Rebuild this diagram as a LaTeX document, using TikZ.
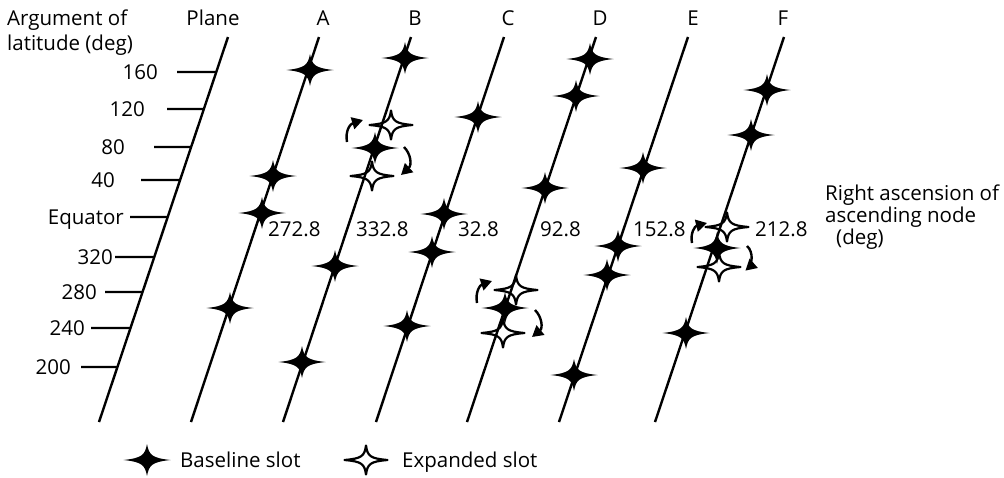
\documentclass[tikz,border=0pt]{standalone}
\usepackage{fontspec}
\setmainfont{Open Sans}
\usetikzlibrary{calc,arrows.meta}
\begin{document}
\begin{tikzpicture}[x=1pt,y=-1pt,
  orbit/.style={line width=2.4pt},
  tickline/.style={line width=2.4pt},
  lbl/.style={font=\fontsize{20.5}{24}\selectfont, inner sep=0pt},
  swaparrow/.style={line width=2.4pt, -{Triangle[length=11pt,width=12pt]}},
  bstar/.pic={\fill[black] (23.5,0) .. controls (5,2) and (2,5) .. (0,16)
      .. controls (-2,5) and (-5,2) .. (-23.5,0)
      .. controls (-5,-2) and (-2,-5) .. (0,-16)
      .. controls (2,-5) and (5,-2) .. cycle;},
  estar/.pic={\draw[black,line width=2.2pt,line join=round] (21.5,0) .. controls (4,1.5) and (1.5,4) .. (0,14.5)
      .. controls (-1.5,4) and (-4,1.5) .. (-21.5,0)
      .. controls (-4,-1.5) and (-1.5,-4) .. (0,-14.5)
      .. controls (1.5,-4) and (4,-1.5) .. cycle;}
]
\useasboundingbox (0,0) rectangle (1004,477);

% orbit planes (top and bottom ends)
\coordinate (pT) at (228,37);  \coordinate (pB) at (99,422);
\coordinate (aT) at (319,37);  \coordinate (aB) at (191,422);
\coordinate (bT) at (411,37);  \coordinate (bB) at (283,422);
\coordinate (cT) at (504,37);  \coordinate (cB) at (376,422);
\coordinate (dT) at (596,37);  \coordinate (dB) at (467,422);
\coordinate (eT) at (688,37);  \coordinate (eB) at (559,422);
\coordinate (fT) at (784,37);  \coordinate (fB) at (655,422);
\foreach \l in {p,a,b,c,d,e,f}{\draw[orbit] (\l B) -- (\l T);}

% headers
\node[lbl,anchor=base west] (h1) at (7,25) {Argument of};
\node[lbl,anchor=base west] (h2) at (7,50) {latitude (deg)};
\node[lbl,anchor=base] (nP) at (213,25) {Plane};
\node[lbl,anchor=base] (nA) at (323,25) {A};
\node[lbl,anchor=base] (nB) at (415,25) {B};
\node[lbl,anchor=base] (nC) at (508,25) {C};
\node[lbl,anchor=base] (nD) at (600,25) {D};
\node[lbl,anchor=base] (nE) at (693,25) {E};
\node[lbl,anchor=base] (nF) at (783,25) {F};

% latitude ticks
\foreach \y/\xs/\xl/\t [count=\i] in {72/177/158/160, 109/167/145/120, 147/154/125/80, 180/141/115/40,
    217/130/124/Equator, 257/115/113/320, 292/105/97/280, 328/91/85/240, 367/81/71/200}{
  \node[lbl,anchor=base east] (t\i) at (\xl,\y+7) {\t};
  \coordinate (s\i) at (\xs,\y);
  \coordinate (e\i) at ($(pB)!{(422-\y)/385}!(pT)$);
  \draw[tickline] (s\i) -- (e\i);
}

% RAAN labels
\node[lbl,anchor=base west] (rA) at (268,236) {272.8};
\node[lbl,anchor=base west] (rB) at (356,236) {332.8};
\node[lbl,anchor=base west] (rC) at (458,236) {32.8};
\node[lbl,anchor=base west] (rD) at (540,236) {92.8};
\node[lbl,anchor=base west] (rE) at (633,236) {152.8};
\node[lbl,anchor=base west] (rF) at (755,236) {212.8};

\node[lbl,anchor=base west] (ra1) at (825,200) {Right ascension of};
\node[lbl,anchor=base west] (ra2) at (825,222) {ascending node};
\node[lbl,anchor=base west] (ra3) at (836,244) {(deg)};

% baseline slots
\foreach \p in {(310,70),(273,176),(262,213),(230,308),
  (405,58),(375,148),(335,266),(302,362),
  (478,117),(444,214),(432,252),(407,326),
  (590,59),(576,96),(545,188),(505,308),
  (643,168),(618,246),(607,275),(574,375),
  (767,90),(751,135),(717,248),(686,333)}{\pic at \p {bstar};}

% expanded slots
\foreach \p in {(391,125),(372,176),(516,290),(503,333),(727,227),(719,267)}{\pic at \p {estar};}

% slot motion arrows
\coordinate (bl0) at (347,142); \coordinate (bl1) at (363,120);
\coordinate (br0) at (404,147); \coordinate (br1) at (401,175);
\draw[swaparrow] (bl0) .. controls (345,131) and (350,124) .. (bl1);
\draw[swaparrow] (br0) .. controls (411,154) and (412,165) .. (br1);
\coordinate (dl0) at (477,303); \coordinate (dl1) at (492,281);
\coordinate (dr0) at (535,310); \coordinate (dr1) at (532,337);
\draw[swaparrow] (dl0) .. controls (475,292) and (480,285) .. (dl1);
\draw[swaparrow] (dr0) .. controls (542,317) and (543,328) .. (dr1);
\coordinate (fl0) at (692,243); \coordinate (fl1) at (707,223);
\coordinate (fr0) at (747,246); \coordinate (fr1) at (758,268);
\draw[swaparrow] (fl0) .. controls (690,233) and (695,226) .. (fl1);
\draw[swaparrow] (fr0) .. controls (754,252) and (752,266) .. (fr1);

% legend
\pic at (147,460) {bstar};
\node[lbl,anchor=base west] (lg1) at (180,467) {Baseline slot};
\pic at (366,460) {estar};
\node[lbl,anchor=base west] (lg2) at (402,467) {Expanded slot};
\end{tikzpicture}
\end{document}
